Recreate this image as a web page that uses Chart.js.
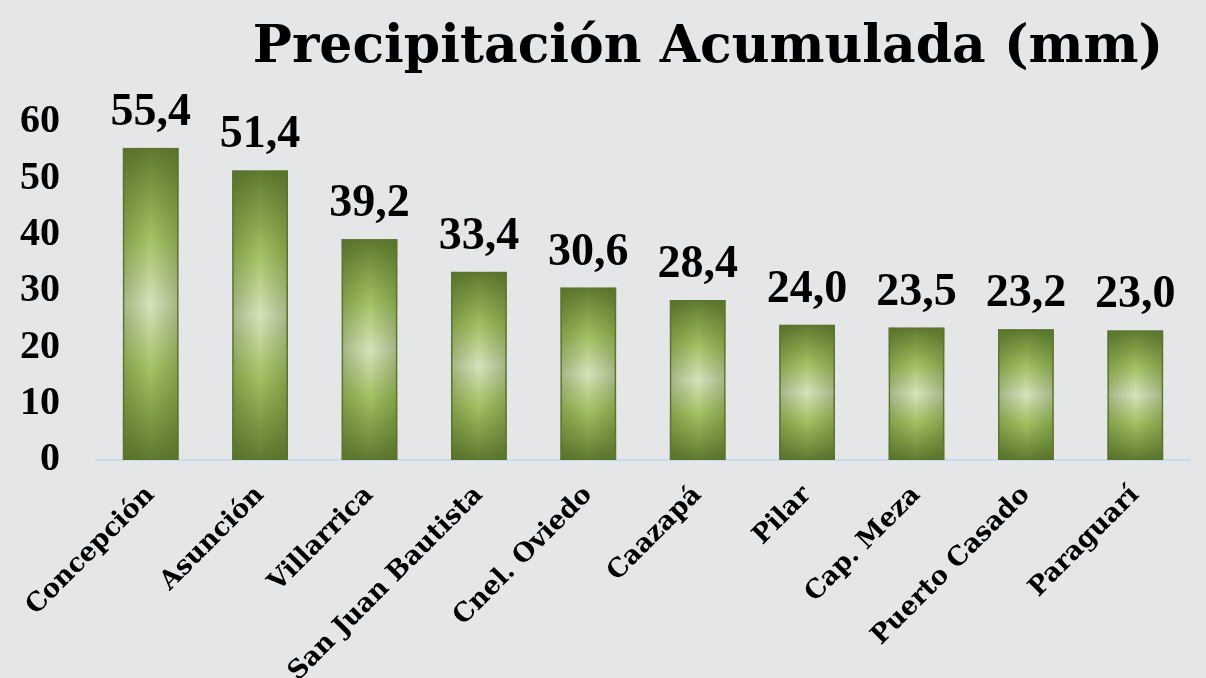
<!DOCTYPE html>
<html>
<head>
<meta charset="utf-8">
<script src="https://cdn.jsdelivr.net/npm/chart.js@4/dist/chart.umd.min.js"></script>
<style>
  html, body { margin: 0; padding: 0; background: #e5e6e8; }
  #wrap { width: 1206px; height: 678px; }
</style>
</head>
<body>
<div id="wrap"><canvas id="precipChart" width="1206" height="678"></canvas></div>
<script>
// datos
var estaciones = ['Concepción', 'Asunción', 'Villarrica', 'San Juan Bautista', 'Cnel. Oviedo',
                  'Caazapá', 'Pilar', 'Cap. Meza', 'Puerto Casado', 'Paraguarí'];
var precipitacion = [55.4, 51.4, 39.2, 33.4, 30.6, 28.4, 24.0, 23.5, 23.2, 23.0];
var ticksY = [0, 10, 20, 30, 40, 50, 60];
var titulo = 'Precipitación Acumulada (mm)';

var SERIF = '"DejaVu Serif", "Liberation Serif", serif';
var NUMS = '"Liberation Serif", "DejaVu Serif", serif';

// relleno verde de cada barra (las opciones se comparten, asi que se pinta aqui)
var barraGradiente = {
    id: 'barraGradiente',
    beforeDatasetDraw: function (chart, args) {
        var ctx = chart.ctx;
        ctx.save();
        args.meta.data.forEach(function (bar) {
            var l = bar.x - bar.width / 2, top = bar.y, h = bar.base - bar.y;
            var g = ctx.createLinearGradient(0, top, 0, bar.base);
            g.addColorStop(0, '#5f7a30');
            g.addColorStop(0.28, '#a2c060');
            g.addColorStop(0.5, '#d6e3bc');
            g.addColorStop(0.72, '#a2c060');
            g.addColorStop(1, '#5f7a30');
            ctx.fillStyle = g;
            ctx.fillRect(l, top, bar.width, h);
            var gh = ctx.createLinearGradient(l, 0, l + bar.width, 0);
            gh.addColorStop(0, 'rgba(70,95,30,0.35)');
            gh.addColorStop(0.5, 'rgba(70,95,30,0)');
            gh.addColorStop(1, 'rgba(70,95,30,0.35)');
            ctx.fillStyle = gh;
            ctx.fillRect(l, top, bar.width, h);
        });
        ctx.restore();
    }
};

// etiquetas con coma decimal y titulo
var etiquetas = {
    id: 'etiquetas',
    afterDraw: function (chart) {
        var ctx = chart.ctx;
        ctx.save();
        ctx.fillStyle = '#000';
        ctx.textAlign = 'center';
        ctx.textBaseline = 'alphabetic';
        ctx.font = 'bold 46px ' + NUMS;
        chart.getDatasetMeta(0).data.forEach(function (bar, i) {
            var txt = precipitacion[i].toFixed(1).replace('.', ',');
            ctx.fillText(txt, bar.x, bar.y - 23);
        });
        ctx.font = 'bold 52px ' + SERIF;
        ctx.fillText(titulo, 708, 62);
        ctx.restore();
    }
};

var ctx = document.getElementById('precipChart').getContext('2d');
var chart = new Chart(ctx, {
    type: 'bar',
    data: {
        labels: estaciones,
        datasets: [{
            data: precipitacion,
            backgroundColor: 'rgba(0,0,0,0)',
            borderColor: '#5a7530',
            borderWidth: 1.5,
            categoryPercentage: 1,
            barPercentage: 0.51
        }]
    },
    plugins: [barraGradiente, etiquetas],
    options: {
        responsive: false,
        animation: false,
        layout: { padding: { top: 122, right: 16, left: 0, bottom: 0 } },
        plugins: {
            legend: { display: false },
            tooltip: { enabled: false },
            title: { display: false }
        },
        scales: {
            x: {
                grid: { display: false, drawTicks: false },
                border: { color: '#c8dcf0', width: 2 },
                ticks: {
                    color: '#000',
                    font: { family: SERIF, size: 26, weight: 'bold' },
                    maxRotation: 45,
                    minRotation: 45,
                    padding: 20
                },
                afterFit: function (scale) { scale.height = 218; }
            },
            y: {
                min: 0,
                max: 60,
                afterBuildTicks: function (scale) {
                    scale.ticks = ticksY.map(function (v) { return { value: v }; });
                },
                grid: { display: false, drawTicks: false },
                border: { display: false },
                ticks: {
                    color: '#000',
                    font: { family: NUMS, size: 40, weight: 'bold' },
                    padding: 36
                },
                afterFit: function (scale) { scale.width = 96; }
            }
        }
    }
});
</script>
</body>
</html>
